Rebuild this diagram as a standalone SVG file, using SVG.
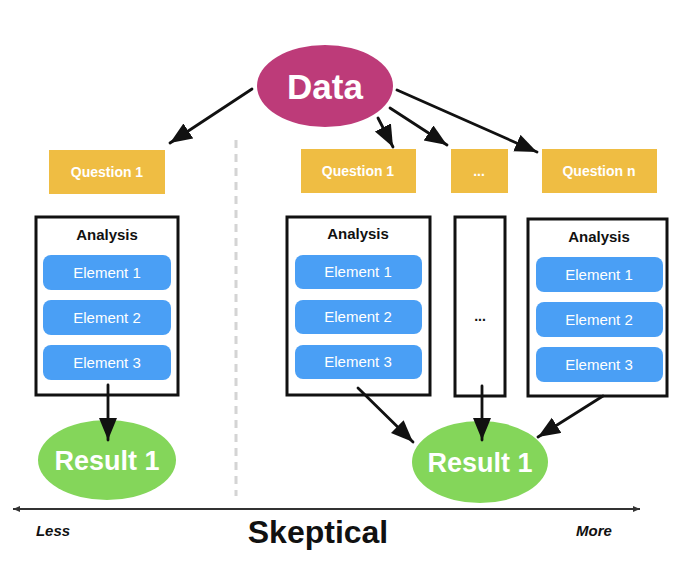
<svg xmlns="http://www.w3.org/2000/svg" width="687" height="573" viewBox="0 0 687 573">
<defs>
<marker id="ah" markerUnits="userSpaceOnUse" markerWidth="24" markerHeight="20" refX="22" refY="9" orient="auto">
<path d="M0,0 L22,9 L0,18 z" fill="#111"/>
</marker>
<marker id="ax" markerUnits="userSpaceOnUse" markerWidth="8" markerHeight="8" refX="7" refY="4" orient="auto-start-reverse">
<path d="M0,1 L7,4 L0,7 z" fill="#333"/>
</marker>
<style>
text{font-family:"Liberation Sans",Arial,sans-serif;}
.q{fill:#EFBD43;}
.qt{fill:#fff;font-weight:bold;font-size:14px;text-anchor:middle;}
.box{fill:#fff;stroke:#111;stroke-width:3;}
.an{fill:#111;font-weight:bold;font-size:15px;text-anchor:middle;}
.el{fill:#4A9FF5;}
.et{fill:#fff;font-size:15px;text-anchor:middle;}
.res{fill:#84D65A;}
.rt{fill:#fff;font-weight:bold;font-size:27px;text-anchor:middle;}
.arr{stroke:#111;stroke-width:2.8;fill:none;marker-end:url(#ah);stroke-linecap:round;}
</style>
</defs>
<rect width="687" height="573" fill="#fff"/>
<line x1="236" y1="140" x2="236" y2="496" stroke="#d4d4d4" stroke-width="3" stroke-dasharray="8,6"/>
<g id="data">
<ellipse cx="325" cy="86" rx="68" ry="41" fill="#BD3B79"/>
<text x="325" y="99" fill="#fff" font-weight="bold" font-size="35" text-anchor="middle">Data</text>
</g>
<g id="q1left"><rect class="q" x="49" y="150" width="116" height="44"/><text class="qt" x="107" y="177">Question 1</text></g>
<g id="q1right"><rect class="q" x="301" y="149" width="115" height="44"/><text class="qt" x="358" y="176">Question 1</text></g>
<g id="qdots"><rect class="q" x="451" y="149" width="57" height="44"/><text class="qt" x="479" y="176">...</text></g>
<g id="qn"><rect class="q" x="542" y="149" width="115" height="44"/><text class="qt" x="599" y="176">Question n</text></g>
<g id="analysisLeft">
<rect class="box" x="36" y="217" width="142" height="178"/>
<text class="an" x="107" y="240">Analysis</text>
<rect class="el" x="43" y="255" width="128" height="35" rx="8"/><text class="et" x="107" y="278">Element 1</text>
<rect class="el" x="43" y="300" width="128" height="35" rx="8"/><text class="et" x="107" y="323">Element 2</text>
<rect class="el" x="43" y="345" width="128" height="35" rx="8"/><text class="et" x="107" y="368">Element 3</text>
</g>
<g id="analysisMid">
<rect class="box" x="287" y="217" width="143" height="178"/>
<text class="an" x="358" y="239">Analysis</text>
<rect class="el" x="295" y="255" width="127" height="34" rx="8"/><text class="et" x="358" y="277">Element 1</text>
<rect class="el" x="295" y="300" width="127" height="34" rx="8"/><text class="et" x="358" y="322">Element 2</text>
<rect class="el" x="295" y="345" width="127" height="34" rx="8"/><text class="et" x="358" y="367">Element 3</text>
</g>
<g id="analysisDots">
<rect class="box" x="455" y="217" width="50" height="179"/>
<text x="480" y="321" fill="#111" font-weight="bold" font-size="14" text-anchor="middle">...</text>
</g>
<g id="analysisRight">
<rect class="box" x="528" y="219" width="139" height="177"/>
<text class="an" x="599" y="242">Analysis</text>
<rect class="el" x="536" y="257" width="127" height="35" rx="8"/><text class="et" x="599" y="280">Element 1</text>
<rect class="el" x="536" y="302" width="127" height="35" rx="8"/><text class="et" x="599" y="325">Element 2</text>
<rect class="el" x="536" y="347" width="127" height="35" rx="8"/><text class="et" x="599" y="370">Element 3</text>
</g>
<g id="resultLeft">
<ellipse class="res" cx="107" cy="460" rx="69" ry="40"/>
<text class="rt" x="107" y="470">Result 1</text>
</g>
<g id="resultRight">
<ellipse class="res" cx="480" cy="462" rx="68" ry="41"/>
<text class="rt" x="480" y="472">Result 1</text>
</g>
<g id="connectors">
<line class="arr" x1="252" y1="89" x2="170" y2="143"/>
<line class="arr" x1="378" y1="118" x2="393" y2="147"/>
<line class="arr" x1="390" y1="108" x2="447" y2="145"/>
<line class="arr" x1="397" y1="90" x2="537" y2="152"/>
<line class="arr" x1="108" y1="385" x2="108" y2="440"/>
<line class="arr" x1="358" y1="388" x2="413" y2="442"/>
<line class="arr" x1="482" y1="386" x2="482" y2="440"/>
<line class="arr" x1="603" y1="396" x2="538" y2="437"/>
</g>
<g id="axis">
<line x1="13" y1="509" x2="640" y2="509" stroke="#333" stroke-width="2" marker-start="url(#ax)" marker-end="url(#ax)"/>
<text x="53" y="536" fill="#111" font-weight="bold" font-style="italic" font-size="15" text-anchor="middle">Less</text>
<text x="594" y="536" fill="#111" font-weight="bold" font-style="italic" font-size="15" text-anchor="middle">More</text>
<text x="318" y="543" fill="#111" font-weight="bold" font-size="32" text-anchor="middle">Skeptical</text>
</g>
</svg>
